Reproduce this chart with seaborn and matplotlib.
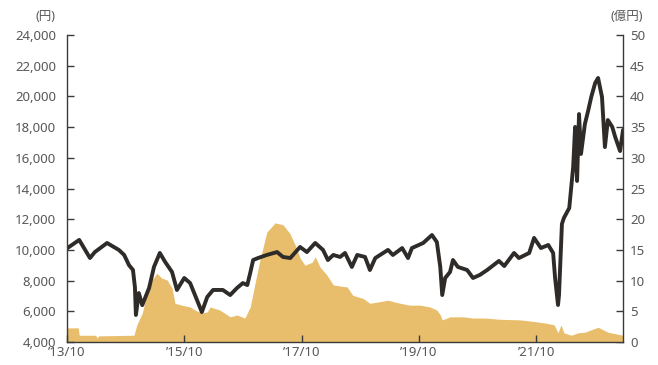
import matplotlib
matplotlib.use("Agg")
import matplotlib.pyplot as plt
import seaborn as sns
import pandas as pd

# months since 2013/10 -> unit price (円)
price_month = [0, 2.5, 4.7, 5.7, 8.2, 10.6, 11.7, 12.7, 13.5, 13.9, 14.1, 14.7, 15.4,
               16.8, 17.8, 19.0, 20.1, 21.5, 22.5, 24.0, 25.2, 26.6, 27.6, 28.7, 29.9,
               31.9, 33.4, 34.8, 36.0, 36.9, 37.5, 38.1, 39.1, 40.9, 43.0, 44.2, 45.7,
               47.7, 49.1, 50.8, 52.4, 53.4, 54.5, 55.9, 56.9, 58.3, 59.4, 61.0, 62.0,
               63.1, 65.7, 66.7, 68.6, 69.8, 70.6, 72.9, 74.7, 75.7, 76.4, 76.8, 77.4,
               78.4, 79.0, 80.0, 81.9, 83.1, 84.5, 86.0, 88.4, 89.5, 91.5, 92.5, 94.6,
               95.6, 97.0, 98.5, 99.5, 99.9, 100.5, 100.7, 101.3, 101.7, 102.8, 103.6,
               104.0, 104.4, 104.8, 105.2, 106.0, 106.7, 107.3, 108.1, 108.7, 109.5,
               110.1, 110.7, 111.6, 112.2, 113.2, 113.8]
price = [10100, 10650, 9470, 9860, 10450, 10000, 9670, 9000, 8700, 7580, 5760, 7190, 6400,
         7520, 8890, 9800, 9210, 8560, 7390, 8170, 7840, 6740, 5950, 6930, 7390,
         7390, 7060, 7520, 7840, 7710, 8500, 9340, 9470, 9670, 9860, 9540, 9470,
         10190, 9860, 10450, 10000, 9340, 9670, 9540, 9800, 8890, 9670, 9540, 8690,
         9470, 10000, 9670, 10120, 9470, 10120, 10450, 10970, 10510, 8890, 7060, 8170,
         8560, 9340, 8890, 8690, 8170, 8370, 8690, 9280, 8950, 9800, 9470, 9800,
         10780, 10120, 10320, 9800, 8170, 6410, 7060, 11690, 12080, 12730, 15400,
         18010, 14490, 18850, 16250, 18200, 19110, 19960, 20870, 21200, 19960,
         16700, 18460, 18010, 17360, 16440, 17810]

# months since 2013/10 -> net assets (億円)
asset_month = [0, 2.3, 2.5, 5.9, 6.1, 6.5, 13.7, 14.3, 15.4, 16.4, 17.4, 18.4, 19.4,
               20.5, 21.5, 22.1, 23.5, 25.2, 26.2, 27.6, 28.7, 29.3, 31.3, 33.4, 34.8,
               36.4, 37.5, 38.5, 39.5, 40.9, 42.6, 44.2, 45.6, 46.7, 47.7, 48.7, 50.2,
               50.8, 51.8, 53.2, 54.5, 56.9, 57.3, 58.5, 60.6, 62.0, 63.5, 65.7, 68.2,
               70.2, 72.3, 74.3, 75.7, 76.4, 76.8, 78.4, 81.1, 83.1, 85.6, 88.6, 92.7,
               95.0, 97.8, 99.7, 100.5, 101.1, 101.7, 103.2, 104.6, 106.0, 108.7,
               110.7, 113.8]
assets = [2.3, 2.3, 1.1, 1.1, 0.65, 1.0, 1.1, 2.8, 4.7, 8.0, 10.1, 11.2, 10.4,
          10.1, 8.8, 6.3, 6.0, 5.7, 5.2, 4.7, 4.9, 5.7, 5.2, 4.1, 4.4,
          3.9, 5.7, 9.6, 13.4, 17.9, 19.4, 19.1, 17.7, 15.8, 13.7, 12.5, 13.0,
          13.9, 12.2, 10.9, 9.3, 9.0, 9.0, 7.6, 7.1, 6.3, 6.5, 6.8, 6.3,
          6.0, 6.0, 5.7, 5.2, 4.4, 3.6, 4.1, 4.1, 3.9, 3.9, 3.7, 3.6,
          3.4, 3.1, 2.8, 1.5, 2.8, 1.5, 1.1, 1.5, 1.6, 2.4,
          1.6, 1.1]

tick_pos = [0, 24, 48, 72, 96]
tick_labels = ["’13/10", "’15/10", "’17/10", "’19/10", "’21/10"]

sns.set_style("ticks")
plt.rcParams['font.family'] = ['Noto Sans', 'Noto Sans CJK JP', 'DejaVu Sans']

txt = "#595757"
spine_c = "#3a3a3a"

fig = plt.figure(figsize=(6.58, 3.65), dpi=100)
ax = fig.add_axes([67/658, 1-342/365, (623-67)/658, (342-35)/365])
ax2 = ax.twinx()

ax2.fill_between(asset_month, assets, 0, color="#E8BE6C", linewidth=0)
ax2.set_ylim(0, 50)
ax2.set_yticks(range(0, 51, 5))

df = pd.DataFrame({"month": price_month, "price": price})
sns.lineplot(data=df, x="month", y="price", ax=ax, color="#2e2b29", linewidth=2.8)
ax.set_zorder(ax2.get_zorder() + 1)
ax.patch.set_visible(False)

ax.set_ylim(4000, 24000)
ax.set_yticks(range(4000, 24001, 2000))
ax.set_yticklabels([f"{v:,}" for v in range(4000, 24001, 2000)])
ax.set_xlim(0, 113.8)
ax.set_xticks(tick_pos)
ax.set_xticklabels(tick_labels)
ax.set_xlabel("")
ax.set_ylabel("")

for a in (ax, ax2):
    a.spines['top'].set_visible(False)
    for s in a.spines.values():
        s.set_color(spine_c)
        s.set_linewidth(1.0)
ax.spines['right'].set_visible(False)
ax2.spines['left'].set_visible(False)
ax2.spines['bottom'].set_visible(False)

ax.tick_params(axis='y', direction='in', length=5, width=1, color=spine_c,
               labelsize=9.5, labelcolor=txt, pad=8)
ax.tick_params(axis='x', direction='in', length=5, width=1, color=spine_c,
               labelsize=9.5, labelcolor=txt, pad=3)
ax2.tick_params(axis='y', direction='in', length=5, width=1, color=spine_c,
                labelsize=9.5, labelcolor=txt, pad=5)

fig.text(46/658, 1-17/365, "(円)", ha='center', va='center', fontsize=9, color=txt)
fig.text(627/658, 1-17/365, "(億円)", ha='center', va='center', fontsize=9, color=txt)

fig.savefig("out.png", dpi=100)
